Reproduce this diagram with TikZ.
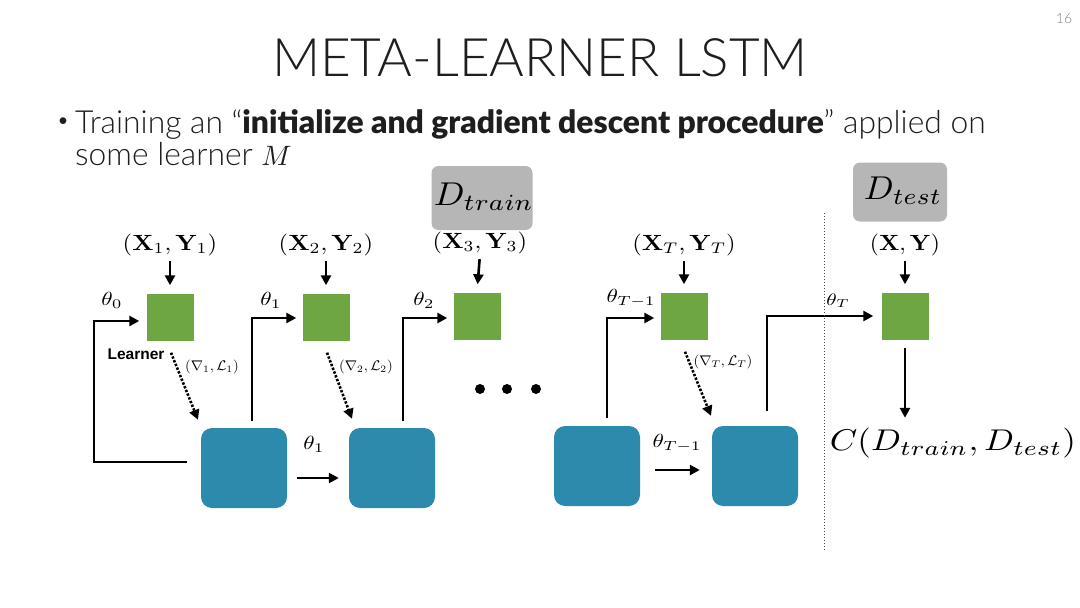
\documentclass[tikz,border=0pt]{standalone}
\usepackage[no-math]{fontspec}
\setmainfont{Lato}
\IfFontExistsTF{Lato Light}{\newfontfamily\titlefont{Lato Light}}{\newfontfamily\titlefont{Lato}}
\IfFontExistsTF{Lato Black}{\newfontfamily\heavyfont{Lato Black}}{\newcommand\heavyfont{\bfseries}}
\newfontfamily\arialfont{Liberation Sans}
\usetikzlibrary{arrows.meta,calc}
\definecolor{lgreen}{RGB}{110,166,66}
\definecolor{mblue}{RGB}{44,138,172}
\definecolor{dgray}{RGB}{182,182,182}
\definecolor{txt}{RGB}{30,30,30}
% math set at 10pt, then scaled: #1 horizontal, #2 vertical
\newcommand\ms[3]{{\fontsize{10}{12}\selectfont\scalebox{#1}[#2]{$#3$}}}
\begin{document}
\begin{tikzpicture}[x=1pt,y=-1pt,
  learner/.style={fill=lgreen, minimum width=47pt, minimum height=47pt, inner sep=0pt},
  meta/.style={fill=mblue, rounded corners=11pt, minimum width=86pt, minimum height=80pt, inner sep=0pt},
  dbox/.style={fill=dgray, rounded corners=7pt, inner sep=0pt},
  arr/.style={line width=2.6pt, -{Triangle[length=10pt,width=10pt]}},
  darr/.style={line width=2.6pt, dash pattern=on 2.4pt off 1.6pt, -{Triangle[length=10pt,width=10pt]}},
  lbl/.style={inner sep=0pt, font=\fontsize{10}{12}\selectfont},
]
\useasboundingbox[fill=white] (0,0) rectangle (1080,608);

% header
\node[lbl, text=gray, font=\titlefont\fontsize{14}{16}\selectfont] (pg) at (1064,19) {16};
\node[lbl, text=txt, font=\titlefont\fontsize{53}{58}\selectfont] (title) at (540,58) {META-LEARNER LSTM};
\node[lbl, text=txt, font=\fontsize{18}{20}\selectfont] (bul) at (63,122) {•};
\node[lbl, anchor=base west, text=txt, font=\titlefont\fontsize{31.8}{34}\selectfont] (line1) at (75,133)
  {Training an “{\heavyfont initialize and gradient descent procedure}” applied on};
\node[lbl, anchor=base west, text=txt, font=\titlefont\fontsize{31.8}{34}\selectfont] (line2) at (75,165)
  {some learner \ms{2.8}{2.8}{M}};

% data boxes
\node[dbox, minimum width=101pt, minimum height=64pt] (dtrain) at (482,198) {};
\node[lbl] (dtraint) at (484,197) {\ms{3.6}{3.3}{D_{train}}};
\node[dbox, minimum width=94pt, minimum height=59pt] (dtest) at (900,192) {};
\node[lbl] (dtestt) at (903,191) {\ms{3.5}{3.3}{D_{test}}};

% learners
\node[learner] (g1) at (170,317) {};
\node[learner] (g2) at (326,317) {};
\node[learner] (g3) at (477,316) {};
\node[learner] (g4) at (684,316) {};
\node[learner] (g5) at (905,316) {};

% meta-learners
\node[meta] (b1) at (244,468) {};
\node[meta] (b2) at (392,468) {};
\node[meta] (b3) at (597,466) {};
\node[meta] (b4) at (755,466) {};

% inputs
\node[lbl] (x1) at (170,245) {\ms{2.45}{2.2}{(\mathbf{X}_1,\mathbf{Y}_1)}};
\node[lbl] (x2) at (326,245) {\ms{2.45}{2.2}{(\mathbf{X}_2,\mathbf{Y}_2)}};
\node[lbl] (x3) at (480,243) {\ms{2.45}{2.2}{(\mathbf{X}_3,\mathbf{Y}_3)}};
\node[lbl] (xT) at (684,245) {\ms{2.45}{2.2}{(\mathbf{X}_T,\mathbf{Y}_T)}};
\node[lbl] (xx) at (905,245) {\ms{2.35}{2.2}{(\mathbf{X},\mathbf{Y})}};
\foreach \a/\b in {x1/g1,x2/g2,x3/g3,xT/g4,xx/g5}
  \draw[arr, shorten <=5pt, shorten >=8pt] (\a.south) -- (\b.north);

% theta labels
\node[lbl] (th0) at (112,300) {\ms{2.3}{1.9}{\theta_0}};
\node[lbl] (th1) at (271,300) {\ms{2.3}{1.9}{\theta_1}};
\node[lbl] (th2) at (424,300) {\ms{2.3}{1.9}{\theta_2}};
\node[lbl] (thT1) at (631,298) {\ms{2.3}{1.9}{\theta_{T-1}}};
\node[lbl] (thT) at (838,301) {\ms{2.1}{1.65}{\theta_T}};
\node[lbl] (th1b) at (314,444) {\ms{2.3}{1.9}{\theta_1}};
\node[lbl] (thT1b) at (677,443) {\ms{2.3}{1.9}{\theta_{T-1}}};

% loop and parameter arrows
\draw[arr, shorten >=7pt] ($(b1.west)+(-14,-6)$) -- ($(b1.west)+(-107,-6)$) |- ($(g1.west)+(0,4)$);
\draw[arr, shorten >=6pt] ($(b1.north)+(8,-7)$) |- ($(g2.west)+(0,1)$);
\draw[arr, shorten >=6pt] ($(b2.north)+(11,-7)$) |- ($(g3.west)+(0,2)$);
\draw[arr, shorten >=6pt] ($(b3.north)+(10,-8)$) |- ($(g4.west)+(0,2)$);
\draw[arr, shorten >=8pt] ($(b4.north)+(12,-15)$) |- (g5.west);
\draw[arr] ($(b1.east)+(10,10)$) -- ($(b2.west)+(-10,10)$);
\draw[arr] ($(b3.east)+(15,4)$) -- ($(b4.west)+(-12,4)$);

% gradient arrows
\node[lbl, font=\arialfont\bfseries\fontsize{15.5}{17}\selectfont] (lrn) at (136,354) {Learner};
\draw[darr] ($(g1.south)+(1,12)$) -- ($(b1.north)+(-46,-8)$);
\draw[darr] ($(g2.south)+(1,12)$) -- ($(b2.north)+(-40,-9)$);
\draw[darr] ($(g4.south)+(1,12)$) -- ($(b4.north)+(-44,-10)$);
\node[lbl] (gr1) at (212,367) {\ms{1.47}{1.4}{(\nabla_1,\mathcal{L}_1)}};
\node[lbl] (gr2) at (366,367) {\ms{1.47}{1.4}{(\nabla_2,\mathcal{L}_2)}};
\node[lbl] (grT) at (723,362) {\ms{1.47}{1.4}{(\nabla_T,\mathcal{L}_T)}};

% ellipsis
\fill (480,389) circle (5pt) (507,389) circle (5pt) (536,389) circle (5pt);

% test side
\draw[line width=1pt, dotted, black!70] (824,213) -- (824,551);
\node[lbl] (cost) at (953,443) {\ms{3.5}{3.0}{C(D_{train},D_{test})}};
\draw[arr, shorten >=10pt] ($(g5.south)+(0,8)$) -- (g5.south |- cost.north);
\end{tikzpicture}
\end{document}
